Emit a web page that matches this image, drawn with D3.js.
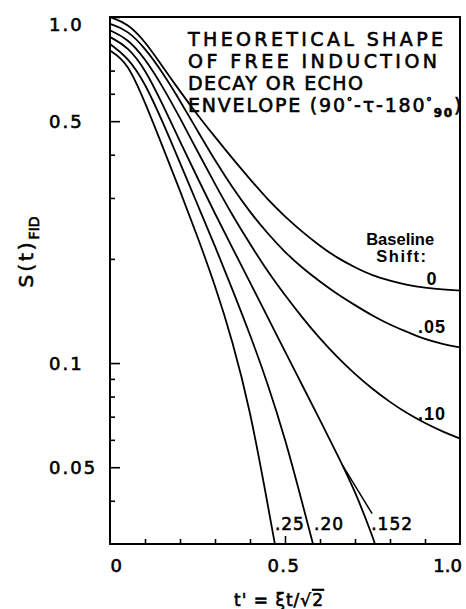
<!DOCTYPE html>
<meta charset="utf-8">
<style>
  body { margin: 0; background: #fff; }
  text { font-family: "DejaVu Sans", sans-serif; fill: #000; }
  .ink { stroke: #000; stroke-width: 0.6px; }
  .helv { font-family: "Liberation Sans", Arial, sans-serif; font-weight: bold; }
  .curve { fill: none; stroke: #000; stroke-width: 1.8px; stroke-linejoin: round; }
  .frame { fill: none; stroke: #000; stroke-width: 2px; }
  .axis path { display: none; }
  .axis line { stroke: #000; stroke-width: 1.6px; }
</style>
<body>
<script src="https://d3js.org/d3.v7.min.js"></script>
<script>

var width = 466,
    height = 609,
    margin = {top: 17, right: 6, bottom: 65, left: 110};

// t' grid, read every 0.05
var tFull = [0, .05, .1, .15, .2, .25, .3, .35, .4, .45, .5, .55, .6, .65, .7, .75, .8, .85, .9, .95, 1.0];
var t152 = [0, .05, .1, .15, .2, .25, .3, .35, .4, .45, .5, .55, .6, .65, .7, .75, .757];
var t20 = [0, .05, .1, .15, .2, .25, .3, .35, .4, .45, .5, .55, .58];
var t25 = [0, .05, .1, .15, .2, .25, .3, .35, .4, .45, .471];

// S(t), one array per baseline shift
var s0   = [1.0, 0.959, 0.851, 0.719, 0.61, 0.521, 0.45, 0.39, 0.34, 0.297, 0.265, 0.239, 0.218, 0.201, 0.189, 0.179, 0.173, 0.168, 0.165, 0.163, 0.162];
var s05  = [0.955, 0.916, 0.813, 0.692, 0.573, 0.469, 0.385, 0.321, 0.273, 0.237, 0.209, 0.188, 0.172, 0.158, 0.147, 0.137, 0.129, 0.123, 0.117, 0.1135, 0.111];
var s10  = [0.915, 0.867, 0.759, 0.631, 0.511, 0.409, 0.329, 0.267, 0.221, 0.184, 0.157, 0.135, 0.1175, 0.1038, 0.0929, 0.0841, 0.0771, 0.0714, 0.067, 0.0634, 0.0605];
var s152 = [0.875, 0.822, 0.708, 0.56, 0.437, 0.343, 0.27, 0.215, 0.171, 0.136, 0.108, 0.086, 0.0684, 0.0543, 0.0427, 0.0316, 0.03];
var s20  = [0.835, 0.767, 0.645, 0.499, 0.379, 0.287, 0.218, 0.163, 0.121, 0.0877, 0.0607, 0.0392, 0.03];
var s25  = [0.80, 0.74, 0.567, 0.423, 0.315, 0.232, 0.168, 0.116, 0.0735, 0.0394, 0.03];

// leader from the ".152" label onto its curve
var leaderT = [0.749, 0.665];
var leaderS = [0.0367, 0.0505];

var shifts = ["0", ".05", ".10", ".152", ".20", ".25"];

var yMajor = [1.0, 0.5, 0.1, 0.05];
var yMajorLabels = ["1.0", "0.5", "0.1", "0.05"];
var yMinor = [0.7, 0.6, 0.4, 0.3, 0.2, 0.09, 0.08, 0.07, 0.06, 0.04];
var xMajor = [0.5];
var xMinor = [0.1, 0.2, 0.3, 0.4, 0.6, 0.7, 0.8, 0.9];
var xLabels = ["0", "0.5", "1.0"];
var xLabelVals = [0, 0.5, 1.0];

var x = d3.scaleLinear()
    .domain([0, 1])
    .range([margin.left, width - margin.right]);

var y = d3.scaleLog()
    .domain([0.03, 1])
    .range([height - margin.bottom, margin.top]);

var svg = d3.select("body").append("svg")
    .attr("width", width)
    .attr("height", height);

svg.append("defs").append("clipPath")
    .attr("id", "plot")
  .append("rect")
    .attr("x", x(0)).attr("y", y(1))
    .attr("width", x(1) - x(0)).attr("height", y(0.03) - y(1));

// ticks point inwards
svg.append("g").attr("class", "axis")
    .attr("transform", "translate(" + x(0) + ",0)")
    .call(d3.axisRight(y).tickValues(yMajor).tickSize(10).tickFormat(""));
svg.append("g").attr("class", "axis")
    .attr("transform", "translate(" + x(0) + ",0)")
    .call(d3.axisRight(y).tickValues(yMinor).tickSize(5).tickFormat(""));
svg.append("g").attr("class", "axis")
    .attr("transform", "translate(0," + y(0.03) + ")")
    .call(d3.axisTop(x).tickValues(xMajor).tickSize(8).tickFormat(""));
svg.append("g").attr("class", "axis")
    .attr("transform", "translate(0," + y(0.03) + ")")
    .call(d3.axisTop(x).tickValues(xMinor).tickSize(5).tickFormat(""));

var line = d3.line()
    .x(function(d) { return x(d[0]); })
    .y(function(d) { return y(d[1]); })
    .curve(d3.curveBasis);

var series = [
  [tFull, s0], [tFull, s05], [tFull, s10], [t152, s152], [t20, s20], [t25, s25]
];

var g = svg.append("g").attr("clip-path", "url(#plot)");

g.selectAll(".curve")
    .data(series)
  .enter().append("path")
    .attr("class", "curve")
    .attr("d", function(s) { return line(d3.zip(s[0], s[1])); });

g.append("path")
    .attr("class", "curve")
    .style("stroke-width", "1.5px")
    .attr("d", line.curve(d3.curveLinear)(d3.zip(leaderT, leaderS)));

svg.append("rect")
    .attr("class", "frame")
    .attr("x", x(0)).attr("y", y(1))
    .attr("width", x(1) - x(0)).attr("height", y(0.03) - y(1));

// y tick labels, left aligned like the lettering
svg.selectAll(".ylab")
    .data(yMajor)
  .enter().append("text")
    .attr("class", "ink")
    .attr("x", 49)
    .attr("y", function(d, i) { return i === 0 ? y(d) + 14 : y(d) + 7; })
    .style("font-size", "18px")
    .style("letter-spacing", "2px")
    .text(function(d, i) { return yMajorLabels[i]; });

svg.selectAll(".xlab")
    .data(xLabelVals)
  .enter().append("text")
    .attr("class", "ink")
    .attr("x", function(d) { return d === 1 ? x(d) + 2 : x(d) + (d === 0 ? 7 : -1); })
    .attr("y", 572)
    .attr("text-anchor", function(d) { return d === 1 ? "end" : "middle"; })
    .style("font-size", "18px")
    .style("letter-spacing", function(d) { return d === 1 ? "0px" : "1.5px"; })
    .text(function(d, i) { return xLabels[i]; });

// axis titles
var xt = svg.append("text")
    .attr("class", "ink")
    .attr("x", 279).attr("y", 606)
    .attr("text-anchor", "middle")
    .style("font-size", "17px")
    .style("letter-spacing", "1px");
xt.append("tspan").text("t' = ξt/√");
xt.append("tspan").style("text-decoration", "overline").text("2");

var yt = svg.append("text")
    .attr("class", "ink")
    .attr("transform", "translate(33,252) rotate(-90)")
    .attr("text-anchor", "middle")
    .style("font-size", "20px");
yt.append("tspan").style("letter-spacing", "3px").text("S(t)");
yt.append("tspan").attr("dy", 6).style("font-size", "14px").text("FID");

// title block
var titleLines = ["THEORETICAL SHAPE", "OF FREE INDUCTION", "DECAY OR ECHO"];
var titleWidths = [255, 249, 175];
titleLines.forEach(function(s, i) {
  svg.append("text")
      .attr("class", "ink")
      .attr("x", 188).attr("y", 46 + i * 22)
      .attr("textLength", titleWidths[i])
      .attr("lengthAdjust", "spacing")
      .style("font-size", "19px")
      .text(s);
});
var t4 = svg.append("text")
    .attr("class", "ink")
    .attr("x", 188).attr("y", 112)
    .style("font-size", "19px")
    .style("letter-spacing", "1.8px");
t4.append("tspan").text("ENVELOPE (90");
t4.append("tspan").attr("dy", -7).style("font-size", "11px").text("°");
t4.append("tspan").attr("dy", 7).text("-τ-180");
t4.append("tspan").attr("dy", -7).style("font-size", "11px").text("°");
t4.append("tspan").attr("dy", 12).style("font-size", "12px").style("font-weight", "bold").text("90");
t4.append("tspan").attr("dy", -5).text(")");

// baseline shift legend
svg.append("text").attr("class", "helv")
    .attr("x", x(0.829)).attr("y", y(0.228) + 6)
    .attr("text-anchor", "middle")
    .style("font-size", "16.5px")
    .text("Baseline");
svg.append("text").attr("class", "helv")
    .attr("x", x(0.834)).attr("y", y(0.204) + 6)
    .attr("text-anchor", "middle")
    .style("font-size", "16.5px")
    .style("letter-spacing", "1.5px")
    .text("Shift:");

var labelAt = [[0.92, 0.176], [0.92, 0.128], [0.92, 0.0717], [0.806, 0.0345], [0.626, 0.0345], [0.514, 0.0345]];
svg.selectAll(".clab")
    .data(shifts)
  .enter().append("text")
    .attr("class", function(d, i) { return i < 3 ? "helv" : "ink"; })
    .attr("x", function(d, i) { return x(labelAt[i][0]); })
    .attr("y", function(d, i) { return y(labelAt[i][1]) + 7; })
    .attr("text-anchor", "middle")
    .style("font-size", function(d, i) { return i < 3 ? "18px" : "17px"; })
    .style("letter-spacing", "1px")
    .text(function(d) { return d; });

</script>
</body>
